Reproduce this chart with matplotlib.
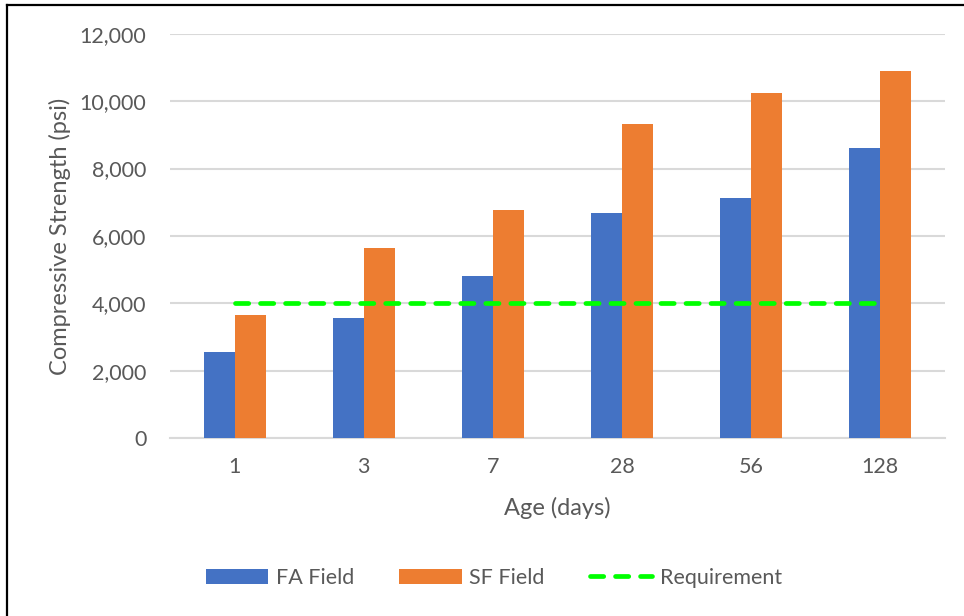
import numpy as np
import matplotlib.pyplot as plt
from matplotlib.lines import Line2D

plt.rcParams['font.family'] = ['Lato', 'DejaVu Sans']

ages = ['1', '3', '7', '28', '56', '128']
fa_field = [2560, 3560, 4810, 6680, 7120, 8620]
sf_field = [3650, 5640, 6780, 9320, 10240, 10900]
requirement = [4000, 4000, 4000, 4000, 4000, 4000]
yticks = [0, 2000, 4000, 6000, 8000, 10000, 12000]

txt = '#595959'
grid = '#D9D9D9'

fig = plt.figure(figsize=(9.64, 6.16), dpi=100)
ax = fig.add_axes([0.1763, 0.289, 0.8037, 0.656])

x = np.arange(len(ages))
w = 0.24
b1 = ax.bar(x - w/2, fa_field, w, color='#4472C4', label='FA Field', zorder=3)
b2 = ax.bar(x + w/2, sf_field, w, color='#ED7D31', label='SF Field', zorder=3)
ln, = ax.plot(x, requirement, color='#00FF00', lw=3.4, ls=(0, (2.8, 2.5)),
              dash_capstyle='round', label='Requirement', zorder=4)

ax.set_xlim(-0.5, len(ages) - 0.5)
ax.set_ylim(0, 12000)
ax.set_yticks(yticks)
ax.set_yticklabels(['{:,}'.format(v) for v in yticks])
ax.set_xticks(x)
ax.set_xticklabels(ages)
ax.grid(axis='y', color=grid, lw=1.5, zorder=0)
for s in ['top', 'right', 'left']:
    ax.spines[s].set_visible(False)
ax.spines['bottom'].set_color(grid)
ax.spines['bottom'].set_linewidth(1.5)
ax.tick_params(axis='both', length=0, labelsize=15.5, labelcolor=txt)
ax.tick_params(axis='y', pad=17)
ax.tick_params(axis='x', pad=14)

ax.set_xlabel('Age (days)', fontsize=17, color=txt, labelpad=14)
ax.set_ylabel('Compressive Strength (psi)', fontsize=17, color=txt, labelpad=6)

fig.legend([b1, b2, ln], ['FA Field', 'SF Field', 'Requirement'],
           loc='center', bbox_to_anchor=(494/964, 1 - 578/616), ncol=3,
           frameon=False, fontsize=15.5, labelcolor=txt, handlelength=2.9,
           handletextpad=0.35, columnspacing=2.1)

# black frame on left and top edge
fig.add_artist(Line2D([7/964, 7/964], [0, 1 - 5/616], color='black', lw=1.6,
                      transform=fig.transFigure))
fig.add_artist(Line2D([7/964, 1], [1 - 5/616, 1 - 5/616], color='black', lw=1.6,
                      transform=fig.transFigure))

fig.savefig('out.png', dpi=100)
